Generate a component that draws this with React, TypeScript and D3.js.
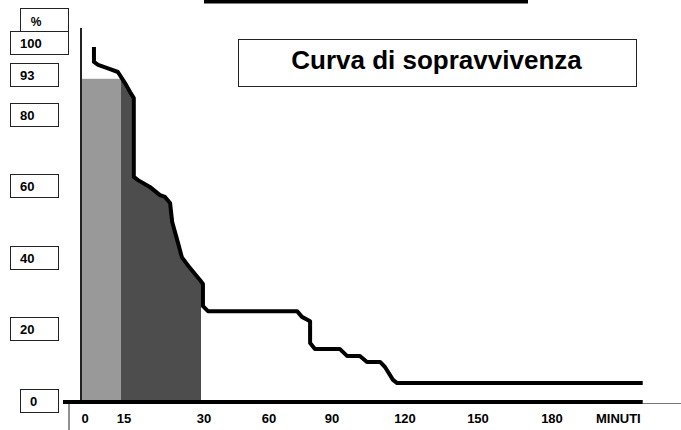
import React from "react";
import * as d3 from "d3";

// ---- data ----
const titleText = "Curva di sopravvivenza";
const xTicks = [0, 15, 30, 60, 90, 120, 150, 180];
const xTickPixels = [82, 121, 201, 266, 329, 402, 475, 549]; // uneven axis as drawn
const xUnit = "MINUTI";
const xEnd = 218;
const yTicks = [100, 93, 80, 60, 40, 20, 0];
const yUnit = "%";
const plateau = 90; // top of light-grey block (0-15 min), labelled "93"
const plateauLabel = 93;
const shadeStart = 0;
const shadeMid = 15;
const shadeEnd = 30;

const minutes = [4.6, 4.6, 6.2, 10.8, 13.8, 15.75, 16.7, 17.4, 17.4, 18.2, 20.4, 22.3, 23.25, 24.2, 24.6, 25.7, 26.4, 27.9, 29.8, 30.9, 30.9, 33.2, 74.8, 77.1, 81, 81, 83.3, 94.5, 97.4, 102.7, 105.6, 111, 113, 116.3, 118, 218];
const survival = [98.9, 94.7, 93.9, 92.7, 91.9, 88.8, 86.3, 84.6, 62.6, 61.7, 59.8, 57.5, 57.0, 55.3, 50.0, 44.1, 40.2, 37.2, 33.8, 32.7, 26.5, 25.1, 25.1, 23.5, 22.3, 16.2, 14.5, 14.5, 12.6, 12.6, 10.9, 10.9, 9.5, 5.9, 5.0, 5.0];

const W = 681;
const H = 430;
const FONT = "'Liberation Sans', Arial, Helvetica, sans-serif";

type P = [number, number];

function interp(pts: P[], m: number): number {
  for (let i = 0; i < pts.length - 1; i++) {
    const [m0, v0] = pts[i];
    const [m1, v1] = pts[i + 1];
    if (m >= m0 && m <= m1) {
      if (m1 === m0) return v1;
      return v0 + ((m - m0) / (m1 - m0)) * (v1 - v0);
    }
  }
  return pts[pts.length - 1][1];
}

export default function App() {
  const x = d3.scaleLinear().domain(xTicks).range(xTickPixels);
  const y = d3.scaleLinear().domain([0, 100]).range([401, 43]);

  const pts: P[] = minutes.map((m, i) => [m, survival[i]]);
  const line = d3
    .line<P>()
    .x((d) => x(d[0]))
    .y((d) => y(d[1]))
    .curve(d3.curveLinear);

  const darkPts: P[] = [
    [shadeMid, interp(pts, shadeMid)],
    ...pts.filter((p) => p[0] > shadeMid && p[0] < shadeEnd),
    [shadeEnd, interp(pts, shadeEnd)],
  ];
  const area = d3
    .area<P>()
    .x((d) => x(d[0]))
    .y0(y(0))
    .y1((d) => y(d[1]));

  const axisY = y(0) + 1;
  const x0 = x(0);
  const labelY = (v: number) => (v === plateauLabel ? y(plateau) - 4 : y(v));

  return (
    <svg
      width={W}
      height={H}
      viewBox={`0 0 ${W} ${H}`}
      style={{ position: "absolute", left: 0, top: 0, display: "block", background: "#fff" }}
      fontFamily={FONT}
    >
      <rect x={0} y={0} width={W} height={H} fill="#fff" />
      {/* top black bar */}
      <rect x={204} y={0} width={324} height={3.5} fill="#000" />

      {/* shaded areas */}
      <rect
        x={x(shadeStart)}
        y={y(plateau)}
        width={x(shadeMid) - x(shadeStart)}
        height={y(0) - y(plateau)}
        fill="#999999"
      />
      <path d={area(darkPts) || ""} fill="#4d4d4d" />

      {/* y axis */}
      <line x1={x0 - 1} x2={x0 - 1} y1={28} y2={axisY + 1} stroke="#222" strokeWidth={2} />
      {/* thin lines */}
      <line x1={69} x2={69} y1={axisY + 1} y2={H} stroke="#222" strokeWidth={1} />
      <line x1={x(xEnd)} x2={W} y1={axisY + 1.5} y2={axisY + 1.5} stroke="#777" strokeWidth={1} />

      {/* survival curve */}
      <path
        d={line(pts) || ""}
        fill="none"
        stroke="#000"
        strokeWidth={4}
        strokeLinejoin="round"
        strokeLinecap="butt"
      />

      {/* x axis */}
      <line x1={63} x2={x(xEnd)} y1={axisY} y2={axisY} stroke="#000" strokeWidth={4} />

      {xTicks.map((t) => (
        <text
          key={t}
          x={x(t) + 3}
          y={423}
          textAnchor="middle"
          fontSize={13}
          fontWeight="bold"
          fill="#000"
        >
          {t}
        </text>
      ))}
      <text x={x(xEnd) - 2} y={423} textAnchor="end" fontSize={13} fontWeight="bold" fill="#000">
        {xUnit}
      </text>

      {/* y label boxes */}
      <rect x={20.5} y={8.5} width={48} height={24} fill="#fff" stroke="#222" strokeWidth={1} />
      <text x={36} y={26} textAnchor="middle" fontSize={12} fontWeight="bold" fill="#000">
        {yUnit}
      </text>
      {yTicks.map((v) => {
        const cy = labelY(v);
        const bx = v === 0 ? 20 : 10;
        const bw = v === 100 ? 59 : v === 0 ? 39 : 49;
        const tx = v === 0 ? 30 : 20;
        return (
          <g key={v}>
            <rect
              x={bx + 0.5}
              y={Math.round(cy - 12) + 0.5}
              width={bw - 1}
              height={23}
              fill="#fff"
              stroke="#222"
              strokeWidth={1}
            />
            <text x={tx} y={cy + 5} fontSize={13} fontWeight="bold" fill="#000">
              {v}
            </text>
          </g>
        );
      })}

      {/* title box */}
      <rect x={238.5} y={39.5} width={398} height={47} fill="#fff" stroke="#222" strokeWidth={1} />
      <text x={436.5} y={69} textAnchor="middle" fontSize={26} fontWeight="bold" fill="#000">
        {titleText}
      </text>
    </svg>
  );
}
